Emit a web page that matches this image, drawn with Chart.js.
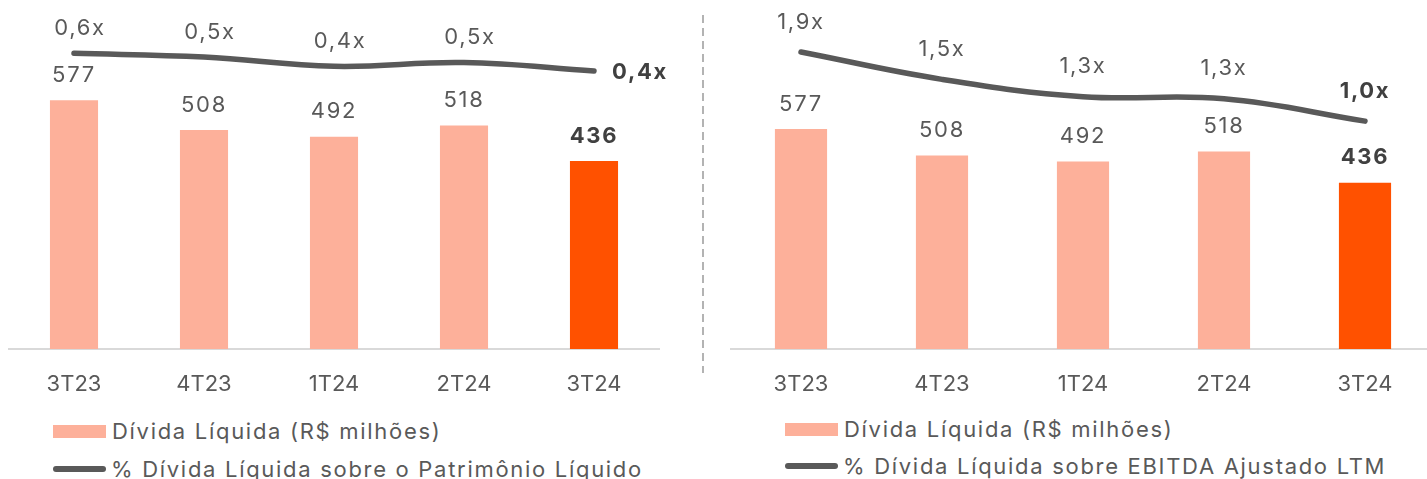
<!DOCTYPE html>
<html>
<head>
<meta charset="utf-8">
<script src="https://cdn.jsdelivr.net/npm/chart.js@4.4.1/dist/chart.umd.min.js"></script>
<style>
  html, body { margin: 0; padding: 0; width: 1427px; height: 479px; overflow: hidden; background: #fff; }
  canvas { position: absolute; top: 0; }
  #left { left: 0; }
  #right { left: 703px; }
  #sep {
    position: absolute; left: 702px; top: 15px; width: 2px; height: 358px;
    background: repeating-linear-gradient(to bottom, #b3b3b3 0 8px, transparent 8px 13px);
  }
  .legend { position: absolute; font-family: Inter, sans-serif; font-size: 22px; color: #595959; letter-spacing: 1.7px; }
  .row { position: absolute; left: 0; height: 36px; display: flex; align-items: center; white-space: nowrap; }
  .box { width: 53px; height: 13px; margin-right: 6px; }
  .ln { width: 53px; height: 6px; border-radius: 3px; margin-right: 5px; }
</style>
</head>
<body>
<canvas id="left" width="700" height="400"></canvas>
<div id="sep"></div>
<canvas id="right" width="740" height="400"></canvas>
<div class="legend" id="legLeft" style="left:53px; top:0"></div>
<div class="legend" id="legRight" style="left:785px; top:0"></div>

<script>
const FONT = 'Inter, sans-serif';

// data
const quarters = ['3T23', '4T23', '1T24', '2T24', '3T24'];
const netDebt = [577, 508, 492, 518, 436];
const debtToEquity = [0.58, 0.54, 0.44, 0.48, 0.39];
const debtToEbitda = [1.92, 1.54, 1.30, 1.27, 0.96];

const barLabel = 'Dívida Líquida (R$ milhões)';
const equityLabel = '% Dívida Líquida sobre o Patrimônio Líquido';
const ebitdaLabel = '% Dívida Líquida sobre EBITDA Ajustado LTM';

const barColor = '#FDB09A';
const lastBarColor = '#FF5100';
const lineColor = '#595959';

const fmtMultiple = (v) => v.toFixed(1).replace('.', ',') + 'x';

// draws the numbers above bars and line points
const valueLabels = {
  id: 'valueLabels',
  afterDatasetsDraw(chart, args, opts) {
    const ctx = chart.ctx;
    ctx.save();
    ctx.textBaseline = 'middle';
    ctx.letterSpacing = '1.7px';
    chart.data.datasets.forEach((ds, di) => {
      const meta = chart.getDatasetMeta(di);
      meta.data.forEach((el, i) => {
        const last = i === ds.data.length - 1;
        ctx.font = (last ? 'bold ' : '') + '22px ' + FONT;
        ctx.fillStyle = last ? '#404040' : '#595959';
        let x = el.x, y, text;
        if (ds.type === 'line') {
          text = fmtMultiple(ds.data[i]);
          if (last && opts.lastRight) {
            ctx.textAlign = 'left';
            x += opts.lastRight;
            y = el.y + 1;
          } else {
            ctx.textAlign = 'center';
            x += opts.lineDx;
            y = el.y - opts.lineGap;
          }
        } else {
          text = String(ds.data[i]);
          ctx.textAlign = 'center';
          y = el.y - opts.barGap;
        }
        ctx.fillText(text, x, y);
      });
    });
    ctx.restore();
  }
};

function makeChart(id, lineData, lineLabel, cfg) {
  return new Chart(document.getElementById(id), {
    type: 'bar',
    data: {
      labels: quarters,
      datasets: [
        {
          type: 'line',
          label: lineLabel,
          data: lineData,
          yAxisID: 'y1',
          borderColor: lineColor,
          backgroundColor: lineColor,
          borderWidth: 5.5,
          borderCapStyle: 'round',
          tension: 0.4,
          pointRadius: 0,
          order: 0
        },
        {
          label: barLabel,
          data: netDebt,
          yAxisID: 'y',
          backgroundColor: netDebt.map((v, i) => i === netDebt.length - 1 ? lastBarColor : barColor),
          categoryPercentage: 1,
          barPercentage: 0.37,
          order: 1
        }
      ]
    },
    options: {
      responsive: false,
      animation: false,
      layout: { autoPadding: false, padding: cfg.padding },
      plugins: {
        legend: { display: false },
        tooltip: { enabled: false },
        valueLabels: cfg.labels
      },
      scales: {
        x: {
          grid: { display: false },
          border: { display: true, color: '#d9d9d9', width: 2 },
          ticks: { color: '#595959', font: { family: FONT, size: 22 }, padding: 14 },
          afterFit(s) { s.height = 51; }
        },
        y: { display: false, min: 0, max: cfg.barMax },
        y1: { display: false, min: cfg.lineMin, max: cfg.lineMax }
      }
    },
    plugins: [valueLabels]
  });
}

function makeLegend(chart, el, rows) {
  // bar item first, line item second, like the original
  const items = [chart.data.datasets[1], chart.data.datasets[0]];
  items.forEach((ds, i) => {
    const row = document.createElement('div');
    row.className = 'row';
    row.style.top = (rows[i] - 18) + 'px';
    const sw = document.createElement('div');
    if (ds.type === 'line') {
      sw.className = 'ln';
      sw.style.background = ds.borderColor;
    } else {
      sw.className = 'box';
      sw.style.background = barColor;
    }
    row.appendChild(sw);
    row.appendChild(document.createTextNode(ds.label));
    el.appendChild(row);
  });
}

const leftChart = makeChart('left', debtToEquity, equityLabel, {
  padding: { left: 9, right: 41, top: 4, bottom: 0 },
  barMax: 800, lineMin: -2.6, lineMax: 1.11,
  labels: { barGap: 25, lineGap: 25, lineDx: 6, lastRight: 18 }
});

const rightChart = makeChart('right', debtToEbitda, ebitdaLabel, {
  padding: { left: 27.5, right: 7.5, top: 6, bottom: 0 },
  barMax: 900, lineMin: -2.205, lineMax: 2.559,
  labels: { barGap: 25, lineGap: 30, lineDx: 0, lastRight: 0 }
});

makeLegend(leftChart, document.getElementById('legLeft'), [431, 469]);
makeLegend(rightChart, document.getElementById('legRight'), [429, 466]);
</script>
</body>
</html>
